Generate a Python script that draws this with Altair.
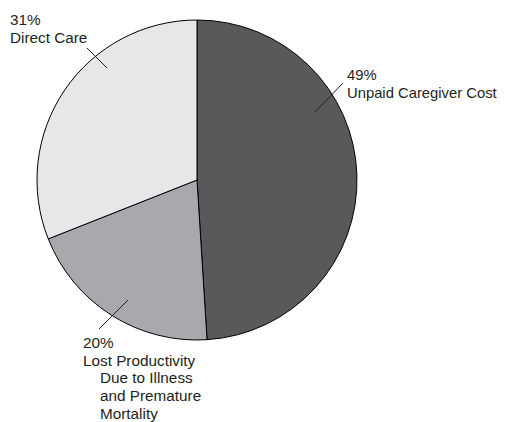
import altair as alt
import pandas as pd

categories = ["Unpaid Caregiver Cost", "Lost Productivity Due to Illness and Premature Mortality", "Direct Care"]
shares = [49, 20, 31]
slice_order = [1, 2, 3]
colors = ["#58595b", "#a7a9ac", "#e6e7e8"]

label_unpaid = ["49%", "Unpaid Caregiver Cost"]
label_lost_a = ["20%", "Lost Productivity"]
label_lost_b = ["Due to Illness", "and Premature", "Mortality"]
label_direct = ["31%", "Direct Care"]

df = pd.DataFrame({"category": categories, "share": shares, "order": slice_order})

CX, CY, R = 189, 172, 160
FONT = "Liberation Sans"

pie = alt.Chart(df).mark_arc(
    x=CX, y=CY, outerRadius=R, stroke="black", strokeWidth=1
).encode(
    theta=alt.Theta("share:Q", stack=True),
    order=alt.Order("order:Q"),
    color=alt.Color("category:N", scale=alt.Scale(domain=categories, range=colors), legend=None),
)

def text(lines, x, y, size=15.3, lh=18.3):
    return alt.Chart(df).transform_filter("datum.order == 1").mark_text(
        align="left", baseline="alphabetic", font=FONT, fontSize=size, lineHeight=lh, color="#231f20"
    ).encode(x=alt.value(x), y=alt.value(y), text=alt.value(lines))

def leader(x1, y1, x2, y2):
    return alt.Chart(df).transform_filter("datum.order == 1").mark_rule(
        color="#231f20", strokeWidth=1
    ).encode(x=alt.value(x1), y=alt.value(y1), x2=alt.value(x2), y2=alt.value(y2))

chart = alt.layer(
    pie,
    leader(79, 40, 99, 60),
    leader(335, 75, 307, 104),
    leader(120, 292, 91, 321),
    text(label_direct, 2, 17),
    text(label_unpaid, 339, 72, 14.8),
    text(label_lost_a, 75, 339.5),
    text(label_lost_b, 92, 375, 15.3, 17.8),
).properties(
    width=495, height=414, padding=0, autosize="none", background="white"
).configure_view(strokeWidth=0, stroke=None)

chart.save("out.html", embed_options={"renderer": "svg", "actions": False})
